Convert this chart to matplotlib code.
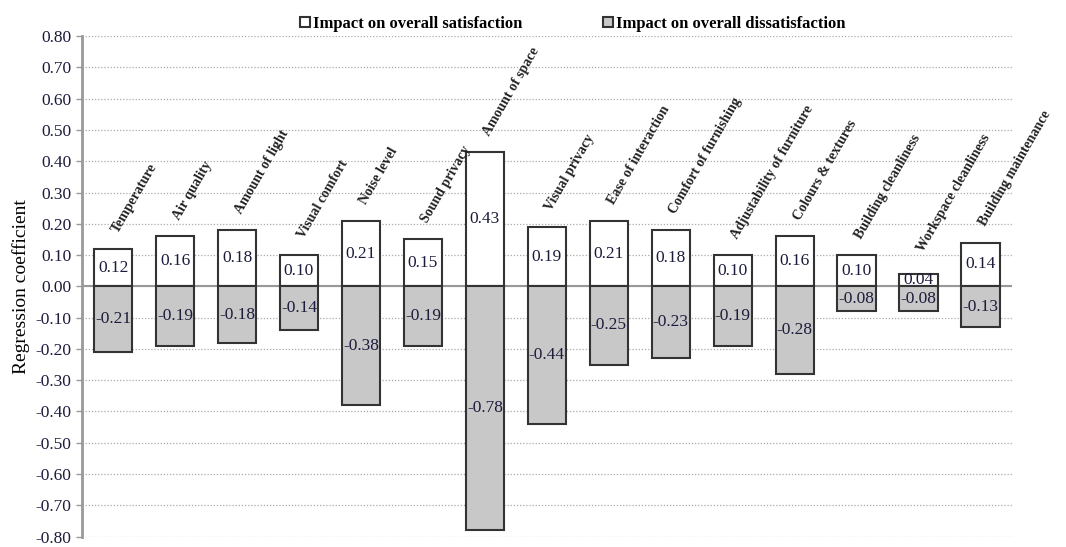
import matplotlib.pyplot as plt
import numpy as np

plt.rcParams['font.family'] = ['Liberation Serif', 'DejaVu Serif']

# factors and regression coefficients
factors = ['Temperature', 'Air quality', 'Amount of light', 'Visual comfort',
           'Noise level', 'Sound privacy', 'Amount of space', 'Visual privacy',
           'Ease of interaction', 'Comfort of furnishing', 'Adjustability of furniture',
           'Colours & textures', 'Building cleanliness', 'Workspace cleanliness',
           'Building maintenance']
satisfaction = [0.12, 0.16, 0.18, 0.10, 0.21, 0.15, 0.43, 0.19,
                0.21, 0.18, 0.10, 0.16, 0.10, 0.04, 0.14]
dissatisfaction = [-0.21, -0.19, -0.18, -0.14, -0.38, -0.19, -0.78, -0.44,
                   -0.25, -0.23, -0.19, -0.28, -0.08, -0.08, -0.13]
yticks = np.round(np.arange(-0.8, 0.81, 0.1), 2)

fig = plt.figure(figsize=(10.66, 5.47), dpi=100)
ax = fig.add_axes([0.077, 0.019, 0.872, 0.915])

x = np.arange(len(factors))
edge = '#333333'
ax.bar(x, satisfaction, width=0.62, color='white', edgecolor=edge, linewidth=1.5,
       zorder=3, label='Impact on overall satisfaction')
ax.bar(x, dissatisfaction, width=0.62, color='#c8c8c8', edgecolor=edge, linewidth=1.5,
       zorder=3, label='Impact on overall dissatisfaction')

txt = '#1c1c3c'
# value labels in the middle of each bar
for i in range(len(factors)):
    ax.text(x[i], satisfaction[i] / 2, f'{satisfaction[i]:.2f}', ha='center', va='center',
            fontsize=12.5, color=txt, zorder=4)
    ax.text(x[i], dissatisfaction[i] / 2, f'{dissatisfaction[i]:.2f}', ha='center', va='center',
            fontsize=12.5, color=txt, zorder=4)
    # category name above the bar
    ax.text(x[i] + 0.12, max(satisfaction[i], 0.06) + 0.045, factors[i], rotation=60,
            rotation_mode='anchor', ha='left', va='bottom', fontsize=10,
            fontweight='bold', color='#222222', zorder=4)

ax.axhline(0, color='#999999', linewidth=1.5, zorder=2)
ax.set_xlim(-0.5, len(factors) - 0.5)
ax.set_ylim(-0.8, 0.8)
ax.set_yticks(yticks)
ax.set_yticklabels([f'{abs(v):.2f}' if v == 0 else f'{v:.2f}' for v in yticks],
                   fontsize=12.5, color=txt)
ax.set_xticks([])
ax.yaxis.grid(True, linestyle=(0, (1, 1.5)), color='#aaaaaa', linewidth=0.9, zorder=0)
ax.tick_params(axis='y', length=4, color='#999999', width=1)
for s in ['top', 'right', 'bottom']:
    ax.spines[s].set_visible(False)
ax.spines['left'].set_color('#999999')
ax.spines['left'].set_linewidth(2)
ax.set_ylabel('Regression coefficient', fontsize=14, labelpad=4)

leg = ax.legend(loc='lower center', bbox_to_anchor=(0.528, 0.995), ncol=2, frameon=False,
                prop={'weight': 'bold', 'size': 12}, handlelength=0.6, handleheight=0.6,
                handletextpad=0.2, columnspacing=4.8, borderaxespad=0)

fig.savefig('out.png', dpi=100)
